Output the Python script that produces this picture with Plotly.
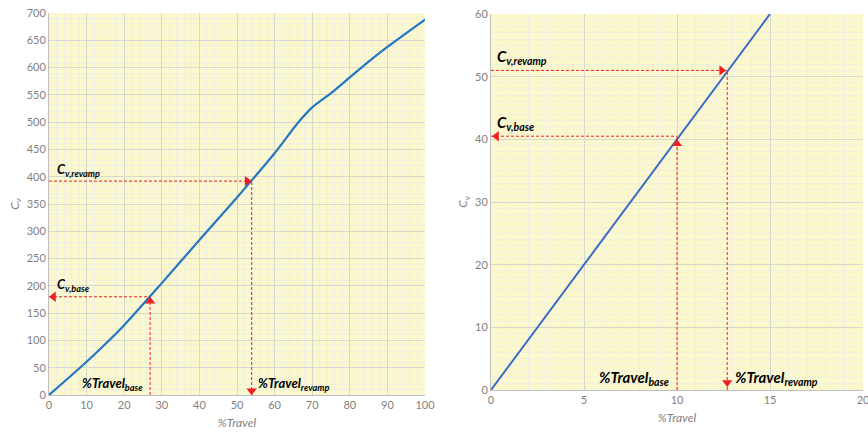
import plotly.graph_objects as go

# ---------------- data ----------------
# Left chart: Cv vs %Travel (full range)
travel_left = [0, 10, 20, 30, 40, 50, 60, 66, 70, 75, 80, 85, 90, 100]
cv_left = [0, 61, 128, 205, 284, 362, 443, 497, 527, 553, 582, 611, 638, 688]
base_travel_left, base_cv_left = 26.9, 180
revamp_travel_left, revamp_cv_left = 53.9, 392

# Right chart: zoom of low range
travel_right = [0, 5, 10, 15]
cv_right = [0, 20, 40, 60]
base_travel_right, base_cv_right = 10.0, 40.5
revamp_travel_right, revamp_cv_right = 12.7, 51.0

left_xticks = list(range(0, 101, 10))
left_yticks = list(range(0, 701, 50))
right_xticks = [0, 5, 10, 15, 20]
right_yticks = [0, 10, 20, 30, 40, 50, 60]

# ---------------- styling ----------------
BG = "#FCF8CD"
MAJOR = "#D7D7D2"
MINOR = "#F1EFDF"
CURVE = "#2477C4"
CURVE_R = "#3A6CC6"
RED = "#F01E1E"
TICK = "#7F7F7F"
FONT = "Lato"

fig = go.Figure()

def dashed(x, y, xa, ya):
    fig.add_trace(go.Scatter(x=x, y=y, mode="lines", xaxis=xa, yaxis=ya,
                             line=dict(color=RED, width=1, dash="3px,2px"),
                             hoverinfo="skip", showlegend=False))

def arrow(x, y, sym, xa, ya, size=9):
    fig.add_trace(go.Scatter(x=[x], y=[y], mode="markers", xaxis=xa, yaxis=ya,
                             marker=dict(symbol=sym, color=RED, size=size, line=dict(width=0)),
                             hoverinfo="skip", showlegend=False, cliponaxis=False))

# ---- left chart ----
fig.add_trace(go.Scatter(x=travel_left, y=cv_left, mode="lines", xaxis="x", yaxis="y",
                         line=dict(color=CURVE, width=2.2, shape="spline", smoothing=0.6),
                         showlegend=False))
dashed([0, base_travel_left], [base_cv_left, base_cv_left], "x", "y")
dashed([base_travel_left, base_travel_left], [0, base_cv_left], "x", "y")
dashed([0, revamp_travel_left], [revamp_cv_left, revamp_cv_left], "x", "y")
dashed([revamp_travel_left, revamp_travel_left], [0, revamp_cv_left], "x", "y")
arrow(1.2, base_cv_left, "triangle-left", "x", "y")
arrow(base_travel_left, base_cv_left - 8, "triangle-up", "x", "y")
arrow(revamp_travel_left - 1.2, revamp_cv_left, "triangle-right", "x", "y")
arrow(revamp_travel_left, 8, "triangle-down", "x", "y")

# ---- right chart ----
fig.add_trace(go.Scatter(x=travel_right, y=cv_right, mode="lines", xaxis="x2", yaxis="y2",
                         line=dict(color=CURVE_R, width=2), showlegend=False))
dashed([0, base_travel_right], [base_cv_right, base_cv_right], "x2", "y2")
dashed([base_travel_right, base_travel_right], [0, base_cv_right], "x2", "y2")
dashed([0, revamp_travel_right], [revamp_cv_right, revamp_cv_right], "x2", "y2")
dashed([revamp_travel_right, revamp_travel_right], [0, revamp_cv_right], "x2", "y2")
arrow(0.3, base_cv_right, "triangle-left", "x2", "y2")
arrow(base_travel_right, base_cv_right - 1.2, "triangle-up", "x2", "y2")
arrow(revamp_travel_right - 0.3, revamp_cv_right, "triangle-right", "x2", "y2")
arrow(revamp_travel_right, 1.2, "triangle-down", "x2", "y2")

# ---------------- labels ----------------
def label(text, x, y, xa, ya, xanchor, size):
    fig.add_annotation(text=text, x=x, y=y, xref=xa, yref=ya, showarrow=False,
                       xanchor=xanchor, yanchor="bottom",
                       font=dict(family=FONT, size=size, color="#000000"))

lab_cv_rev = "<b><i>C<sub>v,revamp</sub></i></b>"
lab_cv_base = "<b><i>C<sub>v,base</sub></i></b>"
lab_tr_base = "<b><i>%Travel<sub>base</sub></i></b>"
lab_tr_rev = "<b><i>%Travel<sub>revamp</sub></i></b>"

label(lab_cv_rev, 1.5, revamp_cv_left + 1, "x", "y", "left", 13)
label(lab_cv_base, 1.5, base_cv_left + 1, "x", "y", "left", 13)
label(lab_tr_base, base_travel_left - 1.3, 0, "x", "y", "right", 13)
label(lab_tr_rev, revamp_travel_left + 1.2, 0, "x", "y", "left", 13)

label(lab_cv_rev, 0.2, revamp_cv_right + 0.2, "x2", "y2", "left", 15)
label(lab_cv_base, 0.2, base_cv_right + 0.2, "x2", "y2", "left", 15)
label(lab_tr_base, base_travel_right - 0.3, 0, "x2", "y2", "right", 15)
label(lab_tr_rev, revamp_travel_right + 0.3, 0, "x2", "y2", "left", 15)

# ---------------- axes ----------------
def xaxis(rng, ticks, minor_dt, domain, anchor):
    return dict(domain=domain, anchor=anchor, range=rng, tickvals=ticks,
                showgrid=True, gridcolor=MAJOR, gridwidth=1,
                minor=dict(dtick=minor_dt, showgrid=True, gridcolor=MINOR, gridwidth=1),
                showline=True, linecolor="#BFBFBF", linewidth=1, zeroline=False,
                ticks="", tickfont=dict(family=FONT, size=11, color=TICK),
                ticklabeloverflow="allow",
                title=dict(text="<i>%Travel</i>", standoff=8,
                           font=dict(family=FONT, size=12, color=TICK)),
                automargin=False, fixedrange=True)

def yaxis(rng, ticks, minor_dt, domain, anchor):
    return dict(domain=domain, anchor=anchor, range=rng, tickvals=ticks,
                showgrid=True, gridcolor=MAJOR, gridwidth=1,
                minor=dict(dtick=minor_dt, showgrid=True, gridcolor=MINOR, gridwidth=1),
                showline=True, linecolor="#BFBFBF", linewidth=1, zeroline=False,
                ticks="", tickfont=dict(family=FONT, size=11, color=TICK),
                ticklabeloverflow="allow",
                title=dict(text="<i>C<sub>v</sub></i>", standoff=4,
                           font=dict(family=FONT, size=12, color=TICK)),
                automargin=False, fixedrange=True)

fig.update_layout(
    width=868, height=432,
    margin=dict(l=0, r=0, t=0, b=0),
    paper_bgcolor="white",
    plot_bgcolor=BG,
    showlegend=False,
    xaxis=xaxis([0, 100], left_xticks, 2, [49 / 868, 425 / 868], "y"),
    yaxis=yaxis([0, 700], left_yticks, 10, [1 - 395 / 432, 1 - 13 / 432], "x"),
    xaxis2=xaxis([0, 20], right_xticks, 1, [491 / 868, 863 / 868], "y2"),
    yaxis2=yaxis([0, 60], right_yticks, 1, [1 - 390 / 432, 1 - 14 / 432], "x2"),
)

fig.write_html("out.html", config={"displayModeBar": False},
               post_script="document.body.style.margin='0';document.body.style.overflow='hidden';")
